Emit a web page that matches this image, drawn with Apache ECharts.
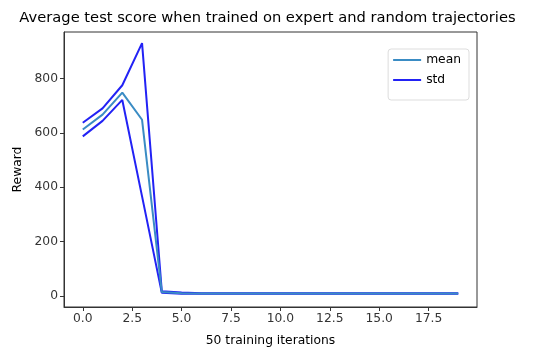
<!DOCTYPE html>
<html><head><meta charset="utf-8">
<script src="https://cdn.jsdelivr.net/npm/echarts@6/dist/echarts.min.js"></script>
<style>html,body{margin:0;padding:0;background:#fff}#c{width:535px;height:352px}</style>
</head><body><div id="c"></div>
<script>
const iterations = [0,1,2,3,4,5,6,7,8,9,10,11,12,13,14,15,16,17,18,19];
const meanValues = [612,667,748,648,14,10,9,9,9,9,9,9,9,9,9,9,9,9,9,9];
const stdValues  = [25,23,27,282,3,2,1,1,1,1,1,1,1,1,1,1,1,1,1,1];
const xTicks = [0,2.5,5,7.5,10,12.5,15,17.5];
const yTicks = [0,200,400,600,800];

const meanData = iterations.map((x,i)=>[x, meanValues[i]]);
const upperData = iterations.map((x,i)=>[x, meanValues[i]+stdValues[i]]);
const lowerData = iterations.map((x,i)=>[x, meanValues[i]-stdValues[i]]);

const font = 'DejaVu Sans';
const chart = echarts.init(document.getElementById('c'));
chart.setOption({
  animation:false,
  backgroundColor:'#fff',
  title:{text:'Average test score when trained on expert and random trajectories', left:'center', top:6,
    textStyle:{fontFamily:font, fontSize:14.7, fontWeight:'normal', color:'#000'}},
  grid:{left:64, right:58, top:32, bottom:45, show:true, borderColor:'#333', borderWidth:1, backgroundColor:'transparent'},
  legend:{right:66, top:49, orient:'vertical', itemWidth:28, itemHeight:2, itemGap:8,
    padding:[5,8,14,5], borderColor:'#ddd', borderWidth:1, borderRadius:3, backgroundColor:'#fff',
    textStyle:{fontFamily:font, fontSize:12.3, color:'#000', lineHeight:12},
    data:[{name:'mean', icon:'rect'},{name:'std', icon:'rect'}]},
  xAxis:{type:'value', min:-0.95, max:19.95,
    name:'50 training iterations', nameLocation:'middle', nameGap:28,
    nameTextStyle:{fontFamily:font, fontSize:12.3, color:'#000'},
    axisLine:{show:true, onZero:false, lineStyle:{color:'#333'}},
    axisTick:{show:true, length:4, customValues:xTicks, lineStyle:{color:'#333'}},
    axisLabel:{customValues:xTicks, fontFamily:font, fontSize:12.3, color:'#333', margin:6,
      formatter:v=>v.toFixed(1)},
    splitLine:{show:false}},
  yAxis:{type:'value', min:-41, max:971,
    name:'Reward', nameLocation:'middle', nameGap:39,
    nameTextStyle:{fontFamily:font, fontSize:12.3, color:'#000'},
    axisLine:{show:true, onZero:false, lineStyle:{color:'#333'}},
    axisTick:{show:true, length:4, customValues:yTicks, lineStyle:{color:'#333'}},
    axisLabel:{customValues:yTicks, fontFamily:font, fontSize:12.3, color:'#333', margin:6},
    splitLine:{show:false}},
  series:[
    {name:'mean', type:'line', data:meanData, symbol:'none', z:3,
      lineStyle:{color:'#3a8cc4', width:2}, itemStyle:{color:'#3a8cc4'}},
    {name:'std', type:'line', data:upperData, symbol:'none', z:2,
      lineStyle:{color:'#2222f5', width:2}, itemStyle:{color:'#2222f5'}},
    {name:'std', type:'line', data:lowerData, symbol:'none', z:2,
      lineStyle:{color:'#2222f5', width:2}, itemStyle:{color:'#2222f5'}}
  ]
});
</script></body></html>
